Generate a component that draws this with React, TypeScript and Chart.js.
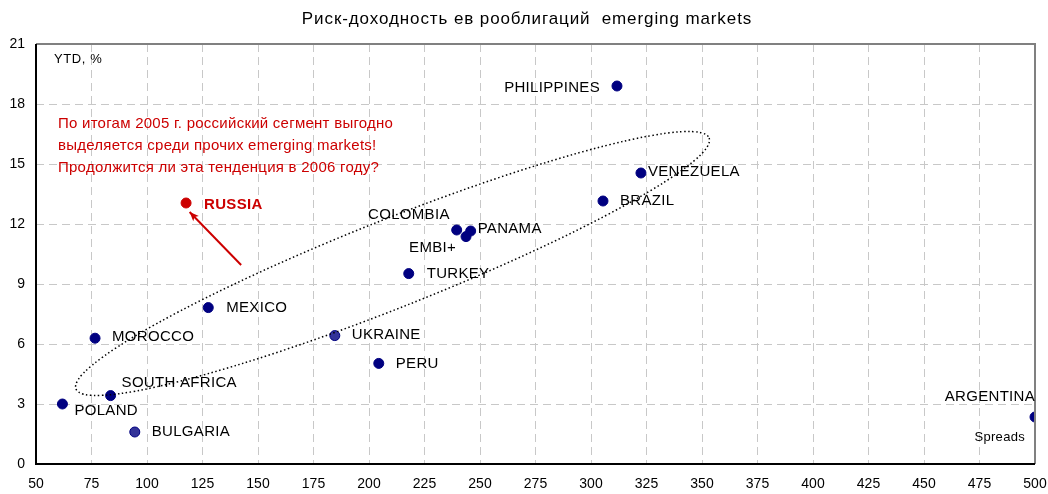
import React, { useEffect, useRef } from 'react';
import { Chart, registerables } from 'chart.js';
Chart.register(...registerables);

const TITLE = 'Риск-доходность ев рооблигаций  emerging markets';
const Y_LABEL = 'YTD, %';
const X_LABEL = 'Spreads';
const NOTE_LINES = [
  'По итогам 2005 г. российский сегмент выгодно',
  'выделяется среди прочих emerging markets!',
  'Продолжится ли эта тенденция в 2006 году?',
];

const countries = ['PHILIPPINES', 'VENEZUELA', 'BRAZIL', 'COLOMBIA', 'PANAMA', 'EMBI+', 'TURKEY', 'MEXICO', 'MOROCCO', 'UKRAINE', 'PERU', 'SOUTH AFRICA', 'POLAND', 'BULGARIA', 'ARGENTINA'];
const spreads = [311.7, 322.5, 305.4, 239.5, 245.8, 243.7, 217.9, 127.6, 76.6, 184.6, 204.4, 83.6, 61.9, 94.5, 500];
const ytd = [18.9, 14.55, 13.15, 11.7, 11.65, 11.37, 9.52, 7.82, 6.29, 6.42, 5.03, 3.42, 3.0, 1.6, 2.35];

const russiaLabel = ['RUSSIA'];
const russiaSpread = [117.6];
const russiaYtd = [13.05];

// ellipse (dotted) ends in data units, and arrow ends in data units
const ellipseEnds = [[68.0, 3.75], [353.2, 16.3]];
const arrowFrom = [142.4, 9.95];
const arrowTo = [119.2, 12.6];

const X_MIN = 50, X_MAX = 500, X_STEP = 25;
const Y_MIN = 0, Y_MAX = 21, Y_STEP = 3;

// label layout (pixel offsets from the point centre)
const labelLayout: Record<string, { dx: number; dy: number; align: CanvasTextAlign }> = {
  'PHILIPPINES': { dx: -17, dy: 2, align: 'right' },
  'VENEZUELA': { dx: 7, dy: -1, align: 'left' },
  'BRAZIL': { dx: 17, dy: 0, align: 'left' },
  'COLOMBIA': { dx: -7, dy: -15, align: 'right' },
  'PANAMA': { dx: 7, dy: -2, align: 'left' },
  'EMBI+': { dx: -10, dy: 11, align: 'right' },
  'TURKEY': { dx: 18, dy: 0, align: 'left' },
  'MEXICO': { dx: 18, dy: 0, align: 'left' },
  'MOROCCO': { dx: 17, dy: -1, align: 'left' },
  'UKRAINE': { dx: 17, dy: -1, align: 'left' },
  'PERU': { dx: 17, dy: 0, align: 'left' },
  'SOUTH AFRICA': { dx: 11, dy: -13, align: 'left' },
  'POLAND': { dx: 12, dy: 7, align: 'left' },
  'BULGARIA': { dx: 17, dy: 0, align: 'left' },
  'ARGENTINA': { dx: 0, dy: -20, align: 'right' },
};

const FONT = '"Liberation Sans", Arial, sans-serif';
const NAVY = '#000080';
const LIGHT_NAVY = '#333399';
const RED = '#CC0000';

const overlay = {
  id: 'overlay',
  afterDatasetsDraw(chart: any) {
    const { ctx, chartArea: ca, scales } = chart;
    const xs = scales.x, ys = scales.y;
    ctx.save();

    // frame top/right
    ctx.strokeStyle = '#808080';
    ctx.lineWidth = 2;
    ctx.beginPath();
    ctx.moveTo(ca.left, ca.top);
    ctx.lineTo(ca.right, ca.top);
    ctx.lineTo(ca.right, ca.bottom);
    ctx.stroke();
    // left/bottom axes
    ctx.strokeStyle = '#000';
    ctx.lineWidth = 2;
    ctx.beginPath();
    ctx.moveTo(ca.left, ca.top);
    ctx.lineTo(ca.left, ca.bottom);
    ctx.lineTo(ca.right, ca.bottom);
    ctx.stroke();

    // ellipse
    const p1x = xs.getPixelForValue(ellipseEnds[0][0]);
    const p1y = ys.getPixelForValue(ellipseEnds[0][1]);
    const p2x = xs.getPixelForValue(ellipseEnds[1][0]);
    const p2y = ys.getPixelForValue(ellipseEnds[1][1]);
    const cx = (p1x + p2x) / 2, cy = (p1y + p2y) / 2;
    const rx = Math.hypot(p2x - p1x, p2y - p1y) / 2;
    const rot = Math.atan2(p2y - p1y, p2x - p1x);
    ctx.strokeStyle = '#000';
    ctx.lineWidth = 1.5;
    ctx.setLineDash([1.5, 2.5]);
    ctx.beginPath();
    ctx.ellipse(cx, cy, rx, 44, rot, 0, Math.PI * 2);
    ctx.stroke();
    ctx.setLineDash([]);

    // arrow
    const ax = xs.getPixelForValue(arrowFrom[0]), ay = ys.getPixelForValue(arrowFrom[1]);
    const bx = xs.getPixelForValue(arrowTo[0]), by = ys.getPixelForValue(arrowTo[1]);
    const ang = Math.atan2(by - ay, bx - ax);
    ctx.strokeStyle = RED;
    ctx.fillStyle = RED;
    ctx.lineWidth = 2;
    ctx.beginPath();
    ctx.moveTo(ax, ay);
    ctx.lineTo(bx, by);
    ctx.stroke();
    ctx.beginPath();
    ctx.moveTo(bx, by);
    ctx.lineTo(bx - 10 * Math.cos(ang - 0.4), by - 10 * Math.sin(ang - 0.4));
    ctx.lineTo(bx - 7 * Math.cos(ang), by - 7 * Math.sin(ang));
    ctx.lineTo(bx - 10 * Math.cos(ang + 0.4), by - 10 * Math.sin(ang + 0.4));
    ctx.closePath();
    ctx.fill();

    // point labels
    ctx.textBaseline = 'middle';
    ctx.fillStyle = '#000';
    ctx.font = `15px ${FONT}`;
    ctx.letterSpacing = '0.3px';
    countries.forEach((c, i) => {
      const L = labelLayout[c];
      const px = xs.getPixelForValue(spreads[i]);
      const py = ys.getPixelForValue(ytd[i]);
      ctx.textAlign = L.align;
      ctx.fillText(c, px + L.dx, py + L.dy);
    });

    // Russia label
    ctx.fillStyle = RED;
    ctx.font = `bold 15px ${FONT}`;
    ctx.textAlign = 'left';
    ctx.fillText(russiaLabel[0], xs.getPixelForValue(russiaSpread[0]) + 18, ys.getPixelForValue(russiaYtd[0]) + 2);

    // note
    ctx.font = `15px ${FONT}`;
    ctx.letterSpacing = '0.25px';
    NOTE_LINES.forEach((t, i) => {
      ctx.fillText(t, ca.left + 22, ca.top + 80 + i * 22);
    });

    // axis captions
    ctx.fillStyle = '#000';
    ctx.font = `13px ${FONT}`;
    ctx.letterSpacing = '0.6px';
    ctx.textAlign = 'left';
    ctx.fillText(Y_LABEL, ca.left + 18, ca.top + 15);
    ctx.textAlign = 'right';
    ctx.letterSpacing = '0.3px';
    ctx.fillText(X_LABEL, ca.right - 10, ca.bottom - 27);

    // title
    ctx.font = `17px ${FONT}`;
    ctx.letterSpacing = '0.9px';
    ctx.textAlign = 'center';
    ctx.fillText(TITLE, chart.width / 2 + 3, 19);

    ctx.restore();
  },
};

export default function App() {
  const ref = useRef<HTMLCanvasElement>(null);
  useEffect(() => {
    document.body.style.margin = '0';
    const chart = new Chart(ref.current!, {
      type: 'scatter',
      data: {
        datasets: [
          {
            label: 'EM',
            data: spreads.map((x, i) => ({ x, y: ytd[i] })),
            backgroundColor: countries.map((c) => (c === 'UKRAINE' || c === 'BULGARIA' ? LIGHT_NAVY : NAVY)),
            borderColor: NAVY,
            borderWidth: 1,
            pointRadius: 5,
          },
          {
            label: 'RUSSIA',
            data: russiaSpread.map((x, i) => ({ x, y: russiaYtd[i] })),
            backgroundColor: RED,
            borderColor: RED,
            borderWidth: 1,
            pointRadius: 5,
          },
        ],
      },
      options: {
        animation: false,
        responsive: true,
        maintainAspectRatio: false,
        layout: { padding: { top: 44, right: 13, left: 0, bottom: 0 } },
        plugins: { legend: { display: false }, title: { display: false }, tooltip: { enabled: false } },
        scales: {
          x: {
            type: 'linear',
            min: X_MIN,
            max: X_MAX,
            ticks: { stepSize: X_STEP, color: '#000', font: { family: FONT, size: 14 }, padding: 12, maxRotation: 0, autoSkip: false },
            grid: { color: '#c8c8c8', lineWidth: 1, drawTicks: false },
            border: { display: false, dash: [8, 5] },
            afterFit: (s: any) => { s.height = 30; s.paddingRight = 0; s.paddingLeft = 0; },
          },
          y: {
            type: 'linear',
            min: Y_MIN,
            max: Y_MAX,
            ticks: { stepSize: Y_STEP, color: '#000', font: { family: FONT, size: 14 }, padding: 11 },
            grid: { color: '#c8c8c8', lineWidth: 1, drawTicks: false },
            border: { display: false, dash: [8, 5] },
            afterFit: (s: any) => { s.width = 36; s.paddingTop = 0; s.paddingBottom = 0; },
          },
        },
      },
      plugins: [overlay],
    });
    return () => chart.destroy();
  }, []);
  return (
    <div style={{ position: 'relative', width: 1048, height: 494 }}>
      <canvas ref={ref} />
    </div>
  );
}
